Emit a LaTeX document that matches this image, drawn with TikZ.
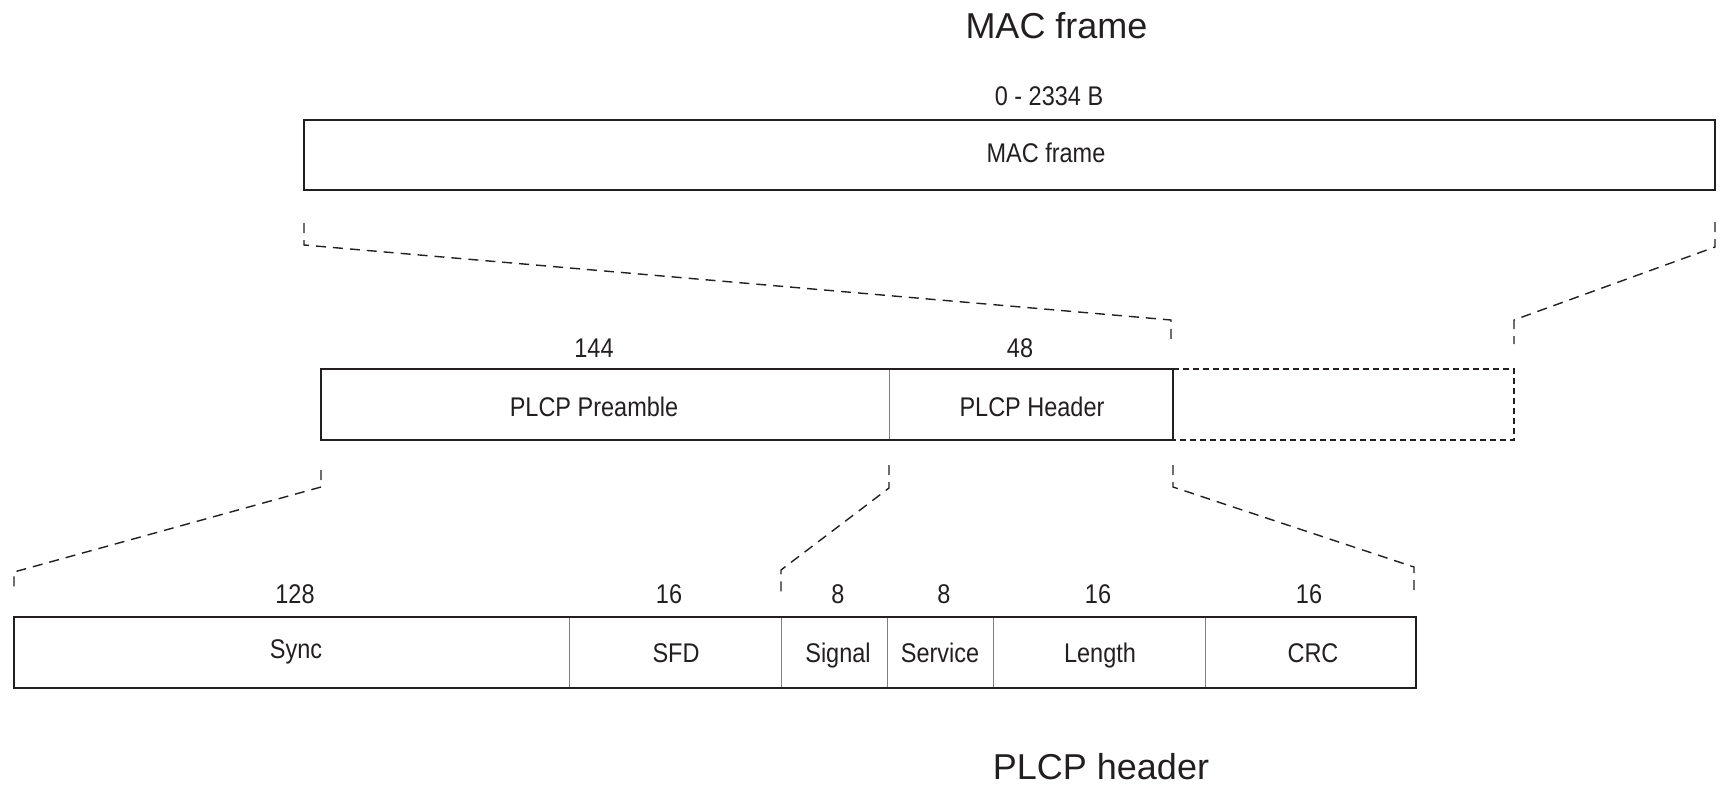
\documentclass[tikz,border=0pt]{standalone}
\usepackage{fontspec}
\setmainfont{Liberation Sans}
\newfontfamily\narrowfont{Liberation Sans}[FakeStretch=0.87]
\usetikzlibrary{calc}
\definecolor{linecol}{HTML}{231F20}
\definecolor{divcol}{HTML}{7F7F7F}
\definecolor{txtcol}{HTML}{231F20}
\tikzset{
  framebox/.style={draw=linecol, line width=2.6pt},
  cell/.style={draw=divcol, line width=1pt, inner sep=0pt, outer sep=0pt, minimum height=71pt},
  lbl/.style={font=\narrowfont\fontsize{27}{30}\selectfont, text=txtcol, inner sep=0pt, anchor=base},
  ttl/.style={font=\fontsize{36}{40}\selectfont, text=txtcol, inner sep=0pt, anchor=base},
  conn/.style={draw=linecol, line width=1.4pt, dash pattern=on 10pt off 7pt},
  extline/.style={draw=linecol, line width=1.4pt, dash pattern=on 6pt off 4pt},
}
\begin{document}
\begin{tikzpicture}[x=1pt, y=-1pt]
\useasboundingbox (0,0) rectangle (1726,785);

% titles
\node[ttl] (t1) at (1056.5,38) {MAC frame};
\node[ttl] (t2) at (1101,779) {PLCP header};

% MAC frame box
\node[framebox, inner sep=0pt, outer sep=0pt, minimum width=1411pt, minimum height=70pt] (mac) at (1009.5,155) {};
\node[lbl] (macsize) at (1049,105) {0 - 2334 B};
\node[lbl] (maclbl) at (1046,162) {MAC frame};

% middle row
\node[cell, minimum width=568pt] (pre) at (605,404.5) {};
\node[cell, minimum width=284pt] (hdr) at (1031,404.5) {};
\node[inner sep=0pt, outer sep=0pt, minimum width=341pt, minimum height=71pt] (ext) at (1343.5,404.5) {};
\draw[framebox] (pre.north west) rectangle (hdr.south east);
\draw[extline] (hdr.north east) -- (ext.north east) -- (ext.south east) -- (hdr.south east);
\node[lbl] (presize) at (594,357) {144};
\node[lbl] (hdrsize) at (1020,357) {48};
\node[lbl] (prelbl) at (594,416) {PLCP Preamble};
\node[lbl] (hdrlbl) at (1032,416) {PLCP Header};

% bottom row
\node[cell, minimum width=555pt] (sync) at (291.5,652.5) {};
\node[cell, minimum width=212pt] (sfd) at (675,652.5) {};
\node[cell, minimum width=106pt] (sig) at (834,652.5) {};
\node[cell, minimum width=106pt] (srv) at (940,652.5) {};
\node[cell, minimum width=212pt] (len) at (1099,652.5) {};
\node[cell, minimum width=211pt] (crc) at (1310.5,652.5) {};
\draw[framebox] (sync.north west) rectangle (crc.south east);

\node[lbl] (syncsize) at (295,603) {128};
\node[lbl] (sfdsize) at (669,603) {16};
\node[lbl] (sigsize) at (838,603) {8};
\node[lbl] (srvsize) at (944,603) {8};
\node[lbl] (lensize) at (1098,603) {16};
\node[lbl] (crcsize) at (1309,603) {16};

\node[lbl] (synclbl) at (296,658) {Sync};
\node[lbl] (sfdlbl) at (676,662) {SFD};
\node[lbl] (siglbl) at (838,662) {Signal};
\node[lbl] (srvlbl) at (940,662) {Service};
\node[lbl] (lenlbl) at (1100,662) {Length};
\node[lbl] (crclbl) at (1313,662) {CRC};

% connectors MAC -> middle
\draw[conn] ([yshift=-33pt]mac.south west) -- ++(0,22) -- ($(hdr.north east)+(-2,-49)$) -- ++(0,24);
\draw[conn] ([yshift=-32pt]mac.south east) -- ++(0,25) -- ($(ext.north east)+(0,-49)$) -- ++(0,24);

% connectors middle -> bottom
\draw[conn] ([yshift=-30pt]pre.south west) -- ++(0,17) -- ($(sync.north west)+(0,-45)$) -- ++(0,20);
\draw[conn] ([yshift=-25pt]pre.south east) -- ++(0,23) -- ($(sig.north west)+(0,-47)$) -- ++(0,25);
\draw[conn] ([yshift=-25pt]hdr.south east) -- ++(0,22) -- ($(crc.north east)+(-2,-50)$) -- ++(0,25);
\end{tikzpicture}
\end{document}
